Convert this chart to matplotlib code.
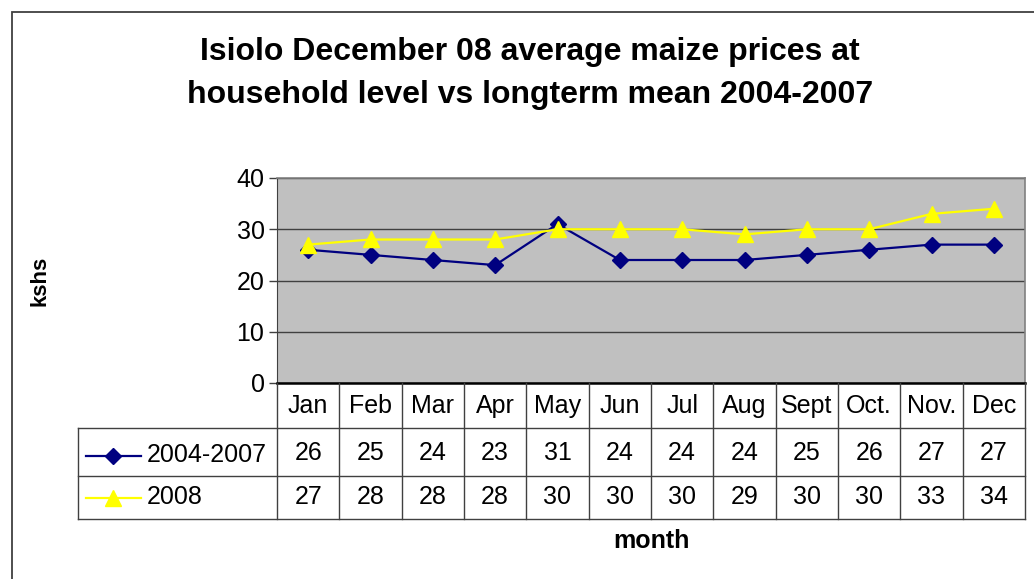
import matplotlib
matplotlib.use('Agg')
import matplotlib.pyplot as plt
import matplotlib.transforms as transforms
from matplotlib.patches import Rectangle
from matplotlib.lines import Line2D

plt.rcParams['font.family'] = ['Liberation Sans', 'DejaVu Sans']

months = ['Jan', 'Feb', 'Mar', 'Apr', 'May', 'Jun', 'Jul', 'Aug', 'Sept', 'Oct.', 'Nov.', 'Dec']
mean_2004_2007 = [26, 25, 24, 23, 31, 24, 24, 24, 25, 26, 27, 27]
prices_2008 = [27, 28, 28, 28, 30, 30, 30, 29, 30, 30, 33, 34]
series_names = ['2004-2007', '2008']

W, H = 1034, 579
fig = plt.figure(figsize=(W / 100, H / 100), dpi=100)
fig.patch.set_facecolor('white')

# outer chart border (runs off the right and bottom edge)
fig.patches.append(Rectangle((12 / W, -0.1), 1.2, 1 - 12 / H + 0.1, transform=fig.transFigure,
                             fill=False, edgecolor='#404040', linewidth=1.3))

ax = fig.add_axes([277 / W, 1 - 383 / H, (1025 - 277) / W, (383 - 178) / H])
ax.set_facecolor('#C0C0C0')
x = list(range(len(months)))

ax.plot(x, mean_2004_2007, color='#000080', marker='D', markersize=8, linewidth=1.6, zorder=3)
ax.plot(x, prices_2008, color='#FFFF00', marker='^', markersize=11, linewidth=1.6, zorder=3)

ax.set_xlim(-0.5, len(months) - 0.5)
ax.set_ylim(0, 40)
ax.set_yticks([0, 10, 20, 30, 40])
ax.tick_params(axis='y', labelsize=18, length=6, width=1, direction='out', pad=3, color='#404040')
ax.set_xticks([])
ax.yaxis.grid(True, color='#404040', linewidth=1)
ax.set_axisbelow(True)
for side in ['top', 'right']:
    ax.spines[side].set_color('#808080')
    ax.spines[side].set_linewidth(1.2)
ax.spines['left'].set_color('#404040')
ax.spines['bottom'].set_color('black')
ax.spines['bottom'].set_linewidth(1.8)

# data table under the plot
tr = transforms.blended_transform_factory(ax.transData, fig.transFigure)
ftr = fig.transFigure
def fy(py):
    return 1 - py / H

top, r1, r2, bot = 383, 428, 476, 519
lc = '#404040'
for i in range(len(months) + 1):
    fig.add_artist(Line2D([i - 0.5, i - 0.5], [fy(top), fy(bot)], transform=tr, color=lc, linewidth=1))
for py in [r1, r2, bot]:
    fig.add_artist(Line2D([78 / W, 1025 / W], [fy(py), fy(py)], transform=ftr, color=lc, linewidth=1))
fig.add_artist(Line2D([78 / W, 78 / W], [fy(r1), fy(bot)], transform=ftr, color=lc, linewidth=1))

for i, m in enumerate(months):
    fig.text(i, fy(406), m, transform=tr, ha='center', va='center', fontsize=18)
    fig.text(i, fy(453), str(mean_2004_2007[i]), transform=tr, ha='center', va='center', fontsize=18)
    fig.text(i, fy(497), str(prices_2008[i]), transform=tr, ha='center', va='center', fontsize=18)

# legend keys inside the table
for py, col, mk, ms, name in [(456, '#000080', 'D', 8, series_names[0]),
                              (498, '#FFFF00', '^', 11, series_names[1])]:
    fig.add_artist(Line2D([86 / W, 141 / W], [fy(py), fy(py)], transform=ftr, color=col, linewidth=1.6))
    fig.add_artist(Line2D([113 / W], [fy(py)], transform=ftr, color=col, marker=mk, markersize=ms))
    fig.text(147 / W, fy(py - 1), name, ha='left', va='center', fontsize=18)

fig.text(530 / W, fy(52), 'Isiolo December 08 average maize prices at', ha='center', va='center',
         fontsize=23, fontweight='bold')
fig.text(530 / W, fy(95), 'household level vs longterm mean 2004-2007', ha='center', va='center',
         fontsize=23, fontweight='bold')
fig.text(40 / W, fy(281), 'kshs', rotation=90, ha='center', va='center', fontsize=16, fontweight='bold')
fig.text(651 / W, fy(541), 'month', ha='center', va='center', fontsize=18, fontweight='bold')

fig.savefig('out.png', dpi=100)
